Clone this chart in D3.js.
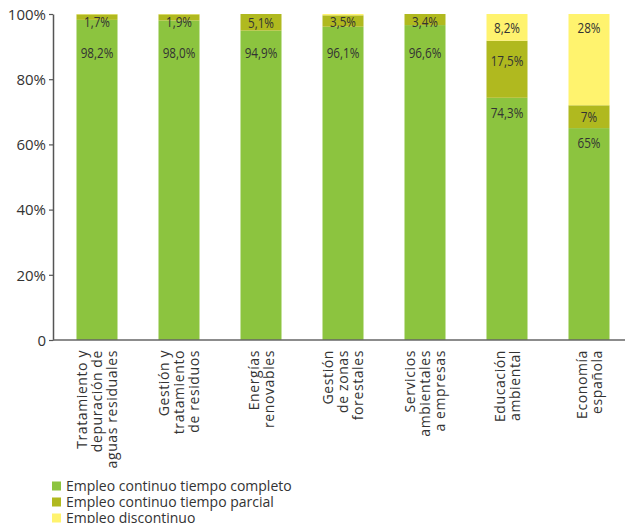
<!DOCTYPE html>
<html><head><meta charset="utf-8">
<script src="https://cdn.jsdelivr.net/npm/d3@7/dist/d3.min.js"></script>
<style>
body{margin:0;background:#fff;}
svg{display:block;}
</style></head>
<body>
<svg id="c" width="625" height="523"></svg>
<script>
const categories = [
  ["Tratamiento y","depuración de","aguas residuales"],
  ["Gestión y","tratamiento","de residuos"],
  ["Energías","renovables"],
  ["Gestión","de zonas","forestales"],
  ["Servicios","ambientales","a empresas"],
  ["Educación","ambiental"],
  ["Economía","española"]
];
const completo   = [98.2, 98.0, 94.9, 96.1, 96.6, 74.3, 65];
const parcial    = [1.7, 1.9, 5.1, 3.5, 3.4, 17.5, 7];
const discontinuo= [0.1, 0.1, 0, 0.4, 0, 8.2, 28];
const labelsCompleto = ["98,2%","98,0%","94,9%","96,1%","96,6%","74,3%","65%"];
const labelsParcial  = ["1,7%","1,9%","5,1%","3,5%","3,4%","17,5%","7%"];
const labelsDisc     = ["","","","","","8,2%","28%"];
const seriesNames = ["Empleo continuo tiempo completo","Empleo continuo tiempo parcial","Empleo discontinuo"];
const yTicks = [0,20,40,60,80,100];
const yTickLabels = ["0","20%","40%","60%","80%","100%"];

const colors = ["#8cc43f","#b0b91f","#fff36e"];
const svg = d3.select("#c");
const x = d3.scaleBand().domain(d3.range(categories.length)).range([56,630]).paddingInner(0.5).paddingOuter(0.25);
const y = d3.scaleLinear().domain([0,100]).range([340,14]);

// bars
const stacks = [completo, parcial, discontinuo];
categories.forEach((c,i)=>{
  let base = 0;
  stacks.forEach((s,k)=>{
    const v = s[i];
    if(v>0){
      svg.append("rect").attr("x",x(i)).attr("width",x.bandwidth())
        .attr("y",y(base+v)).attr("height",y(base)-y(base+v)).attr("fill",colors[k]);
    }
    base += v;
  });
});

// axes
const yAxis = d3.axisLeft(y).tickValues(yTicks).tickFormat((d,i)=>yTickLabels[i]).tickSize(4).tickPadding(3).tickSizeOuter(0);
const gy = svg.append("g").attr("transform","translate(53,0)").call(yAxis);
gy.select(".domain").attr("stroke","#555").attr("stroke-width",1.5);
gy.selectAll(".tick line").attr("stroke","#555").attr("stroke-width",1.2);
gy.selectAll(".tick text").attr("font-family","'Open Sans',sans-serif").attr("font-size",15).attr("fill","#333").attr("dy","0.35em");

svg.append("line").attr("x1",53).attr("x2",625).attr("y1",y(0)).attr("y2",y(0)).attr("stroke","#666").attr("stroke-width",1.5);

// category labels (rotated)
categories.forEach((lines,i)=>{
  const cx = x(i)+x.bandwidth()/2;
  const n = lines.length;
  lines.forEach((t,j)=>{
    const bx = cx + (j-(n-1)/2)*15 + 5;
    svg.append("text").attr("transform",`translate(${bx},350) rotate(-90)`)
      .attr("text-anchor","end").attr("font-family","'Open Sans',sans-serif")
      .attr("font-size",14).attr("letter-spacing","0.6px").attr("fill","#333").text(t);
  });
});

// data labels (condensed)
function lbl(xc,yc,t){
  svg.append("text").attr("transform",`translate(${xc},${yc}) scale(0.78,1)`).attr("dy","0.35em").attr("text-anchor","middle")
    .attr("font-family","'Open Sans',sans-serif").attr("font-size",15).attr("fill","#333").text(t);
}
categories.forEach((c,i)=>{
  const cx = x(i)+x.bandwidth()/2;
  const gTop = y(completo[i]);
  lbl(cx, Math.max(gTop+15, y(88)), labelsCompleto[i]);
  const pTop = y(completo[i]+parcial[i]);
  const pH = gTop-pTop;
  lbl(cx, Math.max(pTop+Math.min(pH/2,20), y(100)+8), labelsParcial[i]);
  if(labelsDisc[i]){
    const dTop = y(completo[i]+parcial[i]+discontinuo[i]);
    lbl(cx, dTop+14, labelsDisc[i]);
  }
});

// legend
seriesNames.forEach((s,k)=>{
  const yy = 486 + k*16;
  svg.append("rect").attr("x",52).attr("y",yy-4.5).attr("width",9).attr("height",9).attr("fill",colors[k]);
  svg.append("text").attr("x",66).attr("y",yy).attr("dy","0.35em")
    .attr("font-family","'Open Sans',sans-serif").attr("font-size",14).attr("fill","#333").text(s);
});
</script>
</body></html>
